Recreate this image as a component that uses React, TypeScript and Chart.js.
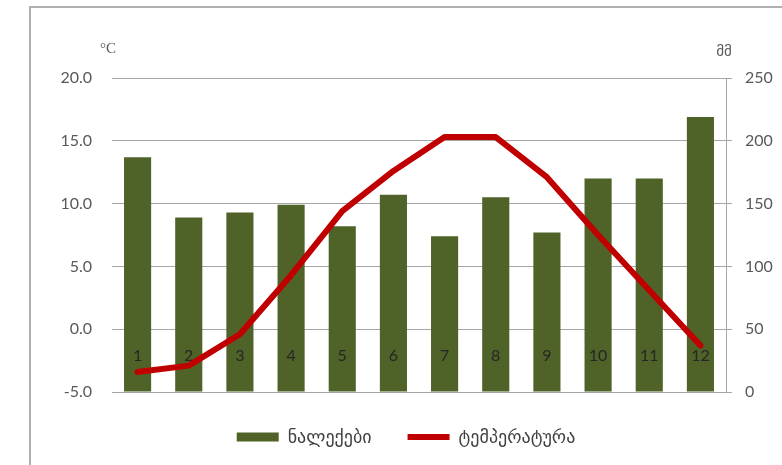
import React, { useEffect, useRef } from "react";
import { Chart, registerables } from "chart.js";

Chart.register(...registerables);

const months = ["1", "2", "3", "4", "5", "6", "7", "8", "9", "10", "11", "12"];
const precipitation = [187, 139, 143, 149, 132, 157, 124, 155, 127, 170, 170, 219];
const temperature = [-3.4, -2.9, -0.4, 4.3, 9.4, 12.6, 15.3, 15.3, 12.1, 7.5, 3.1, -1.3];
const precipLabel = "ნალექები";
const tempLabel = "ტემპერატურა";
const leftUnit = "°C";
const rightUnit = "მმ";

const FONT = "Lato, 'DejaVu Sans', sans-serif";

const overlayPlugin = {
  id: "overlay",
  afterDatasetDraw(chart: any, args: any) {
    if (args.index !== 0) return;
    const ctx = chart.ctx;
    const x = chart.scales.x;
    const y = chart.scales.y;
    const y0 = y.getPixelForValue(0);
    ctx.save();
    ctx.fillStyle = "#262626";
    ctx.font = "16px " + FONT;
    ctx.textAlign = "center";
    ctx.textBaseline = "middle";
    months.forEach((m, i) => {
      ctx.fillText(m, x.getPixelForValue(i), y0 + 27);
    });
    ctx.restore();
  },
  afterDraw(chart: any) {
    const ctx = chart.ctx;
    const a = chart.chartArea;
    ctx.save();
    ctx.fillStyle = "#595959";
    ctx.textAlign = "center";
    ctx.textBaseline = "middle";
    ctx.font = "15px 'Liberation Serif', serif";
    ctx.fillText(leftUnit, a.left - 4, a.top - 29);
    ctx.font = "15px 'DejaVu Sans', sans-serif";
    ctx.fillText(rightUnit, a.right - 2, a.top - 26);
    ctx.restore();
  },
};

export default function App() {
  const ref = useRef<HTMLCanvasElement>(null);
  useEffect(() => {
    if (!ref.current) return;
    const chart = new Chart(ref.current, {
      type: "bar",
      data: {
        labels: months,
        datasets: [
          {
            type: "bar",
            label: precipLabel,
            data: precipitation,
            backgroundColor: "#4F6228",
            borderWidth: 0,
            yAxisID: "y1",
            order: 2,
            barPercentage: 1,
            categoryPercentage: 0.53,
            pointStyle: "rect",
          } as any,
          {
            type: "line",
            label: tempLabel,
            data: temperature,
            borderColor: "#C00000",
            backgroundColor: "#C00000",
            borderWidth: 6,
            borderCapStyle: "round",
            borderJoinStyle: "round",
            pointRadius: 0,
            pointStyle: "line",
            tension: 0,
            yAxisID: "y",
            order: 1,
          } as any,
        ],
      },
      options: {
        responsive: false,
        animation: false,
        layout: { padding: { left: 30, right: 40, top: 78, bottom: 9 } },
        plugins: {
          legend: {
            position: "bottom",
            labels: {
              usePointStyle: true,
              pointStyleWidth: 42,
              boxHeight: 9,
              padding: 36,
              color: "#404040",
              font: { size: 18, family: FONT },
              sort: (a: any, b: any) => a.datasetIndex - b.datasetIndex,
            },
          },
          tooltip: { enabled: false },
        },
        scales: {
          x: {
            display: false,
          },
          y: {
            position: "left",
            min: -5,
            max: 20,
            border: { display: false },
            grid: { color: "#A6A6A6", drawTicks: false },
            ticks: {
              stepSize: 5,
              padding: 20,
              color: "#595959",
              font: { size: 16, family: FONT },
              callback: (v: any) => Number(v).toFixed(1),
            },
            afterFit: (s: any) => {
              s.width = 82;
            },
          },
          y1: {
            position: "right",
            min: 0,
            max: 250,
            border: { display: true, color: "#A6A6A6" },
            grid: { drawOnChartArea: false, drawTicks: true, tickLength: 6, color: "#A6A6A6" },
            ticks: {
              stepSize: 50,
              padding: 13,
              color: "#595959",
              font: { size: 16, family: FONT },
            },
            afterFit: (s: any) => {
              s.width = 56;
            },
          },
        },
      },
      plugins: [overlayPlugin],
    });
    return () => chart.destroy();
  }, []);

  return (
    <div style={{ position: "fixed", left: 0, top: 0, width: 782, height: 465, background: "#fff", overflow: "hidden" }}>
      <div
        style={{
          position: "absolute",
          left: 29,
          top: 6,
          width: 800,
          height: 500,
          borderTop: "2px solid #B0B0B0",
          borderLeft: "2px solid #B0B0B0",
        }}
      />
      <canvas ref={ref} width={822} height={465} style={{ position: "absolute", left: 0, top: 0 }} />
    </div>
  );
}
